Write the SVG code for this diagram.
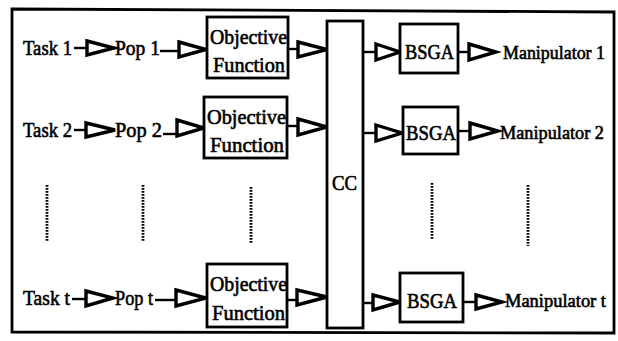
<svg xmlns="http://www.w3.org/2000/svg" width="618" height="341" viewBox="0 0 618 341">
<style>
.t{font-family:"Liberation Serif","Times New Roman",serif;font-size:21px;fill:#000;stroke:#000;stroke-width:0.6}
.m{font-size:18.5px}
.box{fill:#fff;stroke:#000;stroke-width:2.8}
.ln{stroke:#000;stroke-width:2.4;fill:none}
.tri{fill:#fff;stroke:#000;stroke-width:3.4;stroke-linejoin:miter}
.dot{stroke:#000;stroke-width:2.8;stroke-dasharray:1.8 1.2;fill:none}
</style>
<rect width="618" height="341" fill="#fff"/>
<path d="M12,9 L614,12 L614,333 L12,332 Z" fill="none" stroke="#000" stroke-width="2.8"/>

<g id="connectors">
  <line class="ln" x1="74" y1="48" x2="87" y2="48"/>
  <polygon class="tri" points="87,41 114,48 87,55"/>
  <line class="ln" x1="160" y1="51" x2="179" y2="51"/>
  <polygon class="tri" points="179,42 206,49.5 179,57"/>
  <line class="ln" x1="288" y1="49" x2="298" y2="49"/>
  <polygon class="tri" points="298,42 327,49.5 298,57"/>
  <line class="ln" x1="363" y1="52" x2="376" y2="52"/>
  <polygon class="tri" points="376,44 400,52 376,60"/>
  <line class="ln" x1="458" y1="52" x2="469" y2="52"/>
  <polygon class="tri" points="469,44 496,52 469,60"/>

  <line class="ln" x1="74" y1="130" x2="86" y2="130"/>
  <polygon class="tri" points="86,123 115,130 86,137"/>
  <line class="ln" x1="163" y1="134" x2="177" y2="134"/>
  <polygon class="tri" points="177,120 204,128 177,136"/>
  <line class="ln" x1="287" y1="126" x2="298" y2="126"/>
  <polygon class="tri" points="298,119 327,127 298,135"/>
  <line class="ln" x1="363" y1="133" x2="376" y2="133"/>
  <polygon class="tri" points="376,125 402,133 376,141"/>
  <line class="ln" x1="458" y1="131" x2="470" y2="131"/>
  <polygon class="tri" points="470,123 498,131 470,139"/>

  <line class="ln" x1="72" y1="299" x2="86" y2="299"/>
  <polygon class="tri" points="86,291 113,298 86,306"/>
  <line class="ln" x1="155" y1="300" x2="176" y2="300"/>
  <polygon class="tri" points="176,290 206,298 176,306"/>
  <line class="ln" x1="287" y1="300" x2="297" y2="300"/>
  <polygon class="tri" points="297,290 327,297 297,305"/>
  <line class="ln" x1="363" y1="303" x2="373" y2="303"/>
  <polygon class="tri" points="373,295 400,302 373,310"/>
  <line class="ln" x1="463" y1="302" x2="476" y2="302"/>
  <polygon class="tri" points="476,295 502,302 476,309"/>
</g>

<g id="ellipsis">
  <line class="dot" x1="47" y1="185" x2="47" y2="242"/>
  <line class="dot" x1="143" y1="185" x2="143" y2="242"/>
  <line class="dot" x1="251" y1="187" x2="251" y2="243"/>
  <line class="dot" x1="432" y1="183" x2="432" y2="240"/>
  <line class="dot" x1="528" y1="185" x2="528" y2="246"/>
</g>

<g id="task1"><text class="t" x="23" y="55" textLength="49" lengthAdjust="spacingAndGlyphs">Task 1</text></g>
<g id="task2"><text class="t" x="23" y="137" textLength="49" lengthAdjust="spacingAndGlyphs">Task 2</text></g>
<g id="taskt"><text class="t" x="23" y="305" textLength="47" lengthAdjust="spacingAndGlyphs">Task t</text></g>

<g id="pop1"><text class="t" x="115" y="55" textLength="45" lengthAdjust="spacingAndGlyphs">Pop 1</text></g>
<g id="pop2"><text class="t" x="115" y="137" textLength="47" lengthAdjust="spacingAndGlyphs">Pop 2</text></g>
<g id="popt"><text class="t" x="115" y="305" textLength="38" lengthAdjust="spacingAndGlyphs">Pop t</text></g>

<g id="obj1">
  <rect class="box" x="207" y="17" width="81" height="61"/>
  <text class="t" x="210" y="44" textLength="77" lengthAdjust="spacingAndGlyphs">Objective</text>
  <text class="t" x="213" y="72" textLength="72" lengthAdjust="spacingAndGlyphs">Function</text>
</g>
<g id="obj2">
  <rect class="box" x="204" y="97" width="83" height="61"/>
  <text class="t" x="207" y="124" textLength="79" lengthAdjust="spacingAndGlyphs">Objective</text>
  <text class="t" x="210" y="152" textLength="74" lengthAdjust="spacingAndGlyphs">Function</text>
</g>
<g id="objt">
  <rect class="box" x="207" y="264" width="80" height="63"/>
  <text class="t" x="210" y="291" textLength="77" lengthAdjust="spacingAndGlyphs">Objective</text>
  <text class="t" x="212" y="320" textLength="73" lengthAdjust="spacingAndGlyphs">Function</text>
</g>

<g id="cc">
  <rect class="box" x="327" y="21" width="36" height="307"/>
  <text class="t" x="332" y="190" textLength="25" lengthAdjust="spacingAndGlyphs">CC</text>
</g>

<g id="bsga1">
  <rect class="box" x="400" y="24" width="58" height="49"/>
  <text class="t" x="405" y="59" textLength="49" lengthAdjust="spacingAndGlyphs">BSGA</text>
</g>
<g id="bsga2">
  <rect class="box" x="403" y="107" width="55" height="47"/>
  <text class="t" x="406" y="140" textLength="50" lengthAdjust="spacingAndGlyphs">BSGA</text>
</g>
<g id="bsgat">
  <rect class="box" x="400" y="273" width="63" height="49"/>
  <text class="t" x="407" y="308" textLength="50" lengthAdjust="spacingAndGlyphs">BSGA</text>
</g>

<g id="manip1"><text class="t m" x="503" y="59" textLength="102" lengthAdjust="spacingAndGlyphs">Manipulator 1</text></g>
<g id="manip2"><text class="t m" x="500" y="139" textLength="104" lengthAdjust="spacingAndGlyphs">Manipulator 2</text></g>
<g id="manipt"><text class="t m" x="505" y="307" textLength="101" lengthAdjust="spacingAndGlyphs">Manipulator t</text></g>
</svg>
